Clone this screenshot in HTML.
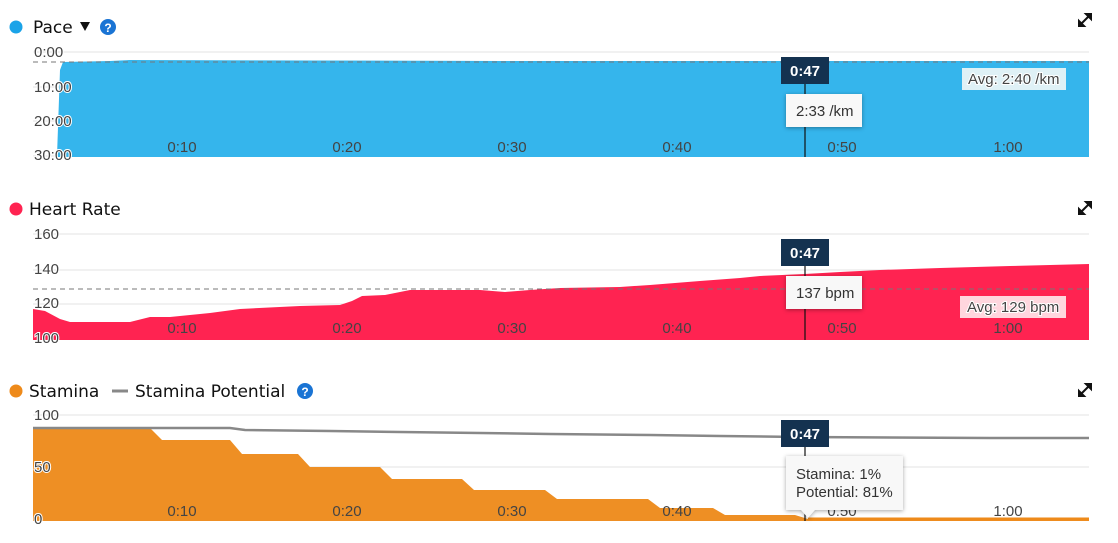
<!DOCTYPE html>
<html><head><meta charset="utf-8"><style>
body{margin:0;background:#fff;width:1118px;height:543px;overflow:hidden;font-family:"Liberation Sans",sans-serif}
svg{display:block}
.t{font-family:"DejaVu Sans","Liberation Sans",sans-serif;font-size:17px;fill:#111}
.ax{font-family:"Liberation Sans",sans-serif;font-size:15px;fill:#444;paint-order:stroke;stroke:#fff;stroke-width:2px}
.tip{font-family:"Liberation Sans",sans-serif;font-size:15px;fill:#333}
</style></head><body>
<svg width="1118" height="543" xmlns="http://www.w3.org/2000/svg">
<!-- PACE -->
<circle cx="16" cy="27" r="6.5" fill="#1aa3e8"/>
<text x="33" y="33" class="t">Pace</text>
<path d="M80 22 L90 22 L85 31Z" fill="#111"/>
<circle cx="108" cy="27" r="8" fill="#1a74d4"/><text x="108" y="32" font-size="12" font-weight="bold" fill="#fff" text-anchor="middle">?</text>
<g stroke="#e3e3e3"><line x1="33" y1="52" x2="1089" y2="52"/><line x1="33" y1="87" x2="1089" y2="87"/><line x1="33" y1="121" x2="1089" y2="121"/><line x1="33" y1="156" x2="1089" y2="156"/></g>
<path d="M57 156 L60 70 L63 62 L110 61 L130 60 L500 61 L1089 61 L1089 157 L57 157Z" fill="#35b5ec"/>
<line x1="33" y1="62" x2="1089" y2="62" stroke="#777" stroke-dasharray="5,4"/>
<g class="ax"><text x="34" y="57">0:00</text><text x="34" y="92">10:00</text><text x="34" y="126">20:00</text><text x="34" y="160">30:00</text>
<text x="182" y="152" text-anchor="middle" stroke="none">0:10</text><text x="347" y="152" text-anchor="middle" stroke="none">0:20</text><text x="512" y="152" text-anchor="middle" stroke="none">0:30</text><text x="677" y="152" text-anchor="middle" stroke="none">0:40</text><text x="842" y="152" text-anchor="middle" stroke="none">0:50</text><text x="1008" y="152" text-anchor="middle" stroke="none">1:00</text></g>
<rect x="962" y="68" width="104" height="22" fill="#dff1f6"/><text x="968" y="84" class="ax" stroke="none">Avg: 2:40 /km</text>
<!-- HR -->
<circle cx="16" cy="209" r="6.5" fill="#ff2351"/>
<text x="29" y="215" class="t">Heart Rate</text>
<g stroke="#e3e3e3"><line x1="33" y1="234" x2="1089" y2="234"/><line x1="33" y1="270" x2="1089" y2="270"/><line x1="33" y1="304" x2="1089" y2="304"/><line x1="33" y1="339" x2="1089" y2="339"/></g>
<path d="M33 309 L45 311 L60 319 L70 322 L130 322 L150 317 L170 317 L210 313 L240 309 L300 306 L340 305 L352 301 L362 296 L385 295 L410 290 L480 290 L505 292 L530 290 L560 288 L620 287 L650 285 L700 281 L740 278 L760 276 L805 274 L840 272 L880 270 L940 268 L1010 266 L1089 264 L1089 340 L33 340Z" fill="#ff2351"/>
<line x1="33" y1="289" x2="1089" y2="289" stroke="#777" stroke-dasharray="5,4"/>
<g class="ax"><text x="34" y="239">160</text><text x="34" y="274">140</text><text x="34" y="308">120</text><text x="34" y="343">100</text>
<text x="182" y="333" text-anchor="middle" stroke="none">0:10</text><text x="347" y="333" text-anchor="middle" stroke="none">0:20</text><text x="512" y="333" text-anchor="middle" stroke="none">0:30</text><text x="677" y="333" text-anchor="middle" stroke="none">0:40</text><text x="842" y="333" text-anchor="middle" stroke="none">0:50</text><text x="1008" y="333" text-anchor="middle" stroke="none">1:00</text></g>
<rect x="960" y="296" width="106" height="22" fill="#ffd6de"/><text x="967" y="312" class="ax" stroke="none">Avg: 129 bpm</text>
<!-- STAMINA -->
<circle cx="16" cy="391" r="6.5" fill="#ee8a1a"/>
<text x="29" y="397" class="t">Stamina</text>
<line x1="112" y1="391" x2="128" y2="391" stroke="#888" stroke-width="3"/>
<text x="135" y="397" class="t">Stamina Potential</text>
<circle cx="305" cy="391" r="8" fill="#1a74d4"/><text x="305" y="396" font-size="12" font-weight="bold" fill="#fff" text-anchor="middle">?</text>
<g stroke="#e3e3e3"><line x1="33" y1="415" x2="1089" y2="415"/><line x1="33" y1="467" x2="1089" y2="467"/><line x1="33" y1="520" x2="1089" y2="520"/></g>
<path d="M33 428 L150 428 L162 440 L230 440 L242 454 L298 454 L310 467 L380 467 L392 479 L462 479 L474 490 L545 490 L557 499 L648 499 L660 508 L713 508 L725 515 L795 515 L808 519 L1089 519 L1089 521 L33 521Z" fill="#ee8f24"/>
<path d="M808 519 L1089 519" stroke="#ee8a1a" stroke-width="3"/>
<path d="M33 428 L230 428 L245 430 L330 431 L400 432 L480 433 L550 434 L650 435 L720 436 L800 437 L990 438 L1089 438" stroke="#888" stroke-width="2.5" fill="none"/>
<g class="ax"><text x="34" y="420">100</text><text x="34" y="472">50</text><text x="34" y="524">0</text>
<text x="182" y="516" text-anchor="middle" stroke="none">0:10</text><text x="347" y="516" text-anchor="middle" stroke="none">0:20</text><text x="512" y="516" text-anchor="middle" stroke="none">0:30</text><text x="677" y="516" text-anchor="middle" stroke="none">0:40</text><text x="842" y="516" text-anchor="middle" stroke="none">0:50</text><text x="1008" y="516" text-anchor="middle" stroke="none">1:00</text></g>
<!-- expand icons -->
<g stroke="#111" stroke-width="2" fill="#111">
<path d="M1079 26 L1091 14 M1091 14 L1086 14 L1091 19Z M1079 26 L1079 21 L1084 26Z"/>
<path d="M1079 214 L1091 202 M1091 202 L1086 202 L1091 207Z M1079 214 L1079 209 L1084 214Z"/>
<path d="M1079 396 L1091 384 M1091 384 L1086 384 L1091 389Z M1079 396 L1079 391 L1084 396Z"/>
</g>
<!-- cursors -->
<g stroke="#111" stroke-width="1.2"><line x1="805" y1="80" x2="805" y2="157"/><line x1="805" y1="263" x2="805" y2="340"/><line x1="805" y1="446" x2="805" y2="521"/></g>
<g font-size="15" font-weight="bold" fill="#fff" text-anchor="middle">
<rect x="781" y="57" width="48" height="27" fill="#143250"/><text x="805" y="76">0:47</text>
<rect x="781" y="239" width="48" height="27" fill="#143250"/><text x="805" y="258">0:47</text>
<rect x="781" y="420" width="48" height="27" fill="#143250"/><text x="805" y="439">0:47</text>
</g>
<g style="filter:drop-shadow(0 1px 2px rgba(0,0,0,.35))">
<rect x="786" y="94" width="76" height="33" fill="#f8f8f8"/>
<rect x="786" y="276" width="76" height="33" fill="#f8f8f8"/>
<path d="M786 456 L903 456 L903 510 L815 510 L808 518 L801 510 L786 510Z" fill="#f8f8f8"/>
</g>
<text x="796" y="116" class="tip">2:33 /km</text>
<text x="796" y="298" class="tip">137 bpm</text>
<text x="796" y="479" class="tip">Stamina: 1%</text><text x="796" y="497" class="tip">Potential: 81%</text>
</svg>
</body></html>
